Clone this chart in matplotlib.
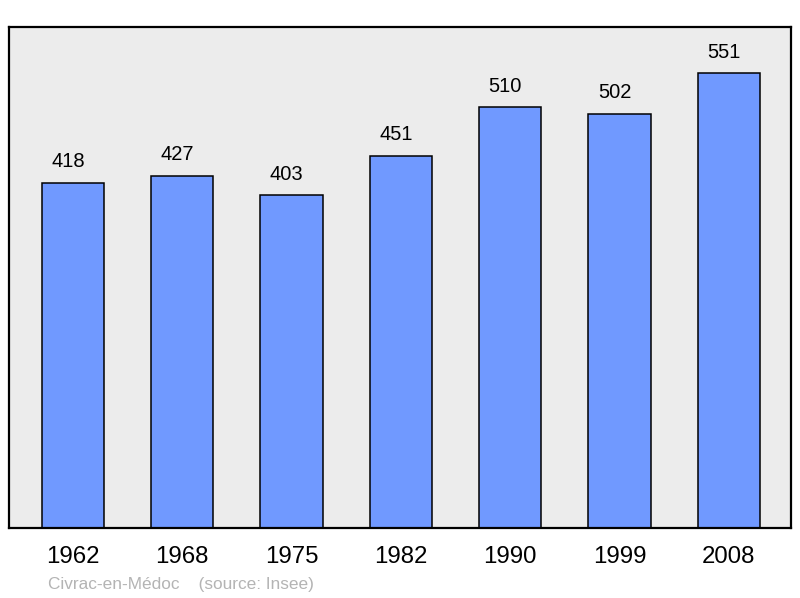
import matplotlib
matplotlib.use("Agg")
import matplotlib.pyplot as plt

years = ["1962", "1968", "1975", "1982", "1990", "1999", "2008"]
population = [418, 427, 403, 451, 510, 502, 551]

plt.rcParams['font.family'] = ['Liberation Sans', 'DejaVu Sans']

fig = plt.figure(figsize=(8, 5.98), dpi=100)
ax = fig.add_axes([9 / 800, 70 / 598, 782 / 800, 501 / 598])
ax.set_facecolor("#ececec")

x = list(range(len(years)))
ax.bar(x, population, width=0.57, color="#7099ff",
       edgecolor="black", linewidth=1.1, zorder=2)

# value labels sit a little left of the bar centre in the original
for xi, v in zip(x, population):
    ax.text(xi - 0.045, v + 14, str(v), ha="center", va="bottom", fontsize=14.5)

ax.set_xlim(-0.585, 6.57)
ax.set_ylim(0, 607)
ax.set_yticks([])
ax.set_xticks(x)
ax.set_xticklabels(years, fontsize=17.3)
ax.tick_params(axis="x", length=0, pad=13)
for s in ax.spines.values():
    s.set_linewidth(1.6)

fig.text(48 / 800, 1 - 584 / 598, "Civrac-en-Médoc    (source: Insee)",
         color="#b4b4b4", fontsize=12.4, va="center", ha="left")

fig.savefig("out.png", dpi=100)
